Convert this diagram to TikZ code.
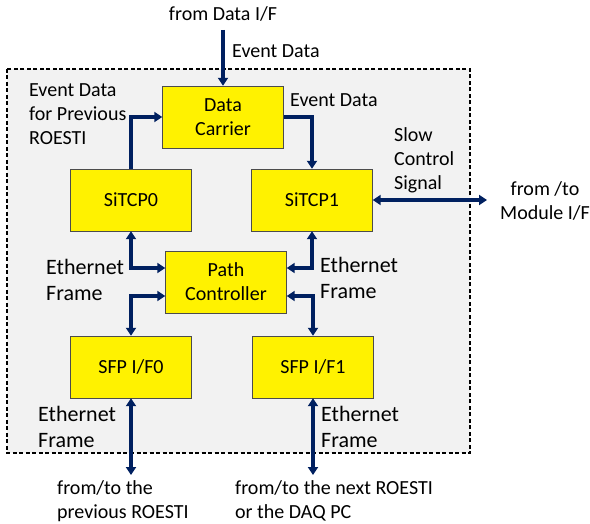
\documentclass[tikz,border=0pt]{standalone}
\usepackage{fontspec}
\setmainfont{Carlito}
\usepackage{tikz}
\usetikzlibrary{positioning, arrows.meta}
\definecolor{navy}{HTML}{002060}
\definecolor{boxgray}{HTML}{F2F2F2}

\begin{document}
\begin{tikzpicture}[
    x=1pt, y=-1pt, % pixel-like coordinates, y grows downwards
    every node/.style={font=\fontsize{20}{24}\selectfont},
    block/.style={draw=black!70, fill=yellow, minimum width=121pt,
        minimum height=62pt, align=center, inner sep=0pt},
    link/.style={draw=navy, line width=3.4pt, -{Triangle[length=8pt,width=10pt]}},
    both/.style={link, {Triangle[length=8pt,width=10pt]}-{Triangle[length=8pt,width=10pt]}},
    lbl/.style={align=left, anchor=base west, inner sep=0pt,
        font=\fontsize{20}{24}\selectfont},
    ethlbl/.style={lbl, font=\fontsize{22}{26}\selectfont}
]
    \useasboundingbox (0,0) rectangle (590,524);

    % Dashed frame of the board
    \draw[fill=boxgray, line width=1.3pt, dash pattern=on 4pt off 2.5pt]
        (7,69) rectangle (470,453);

    % Blocks
    \node[block] (carrier) at (223,117) {Data\\Carrier};
    \node[block] (sitcp0) at (131,200) {SiTCP0};
    \node[block] (sitcp1) at (312,200) {SiTCP1};
    \node[block] (path) at (226,282) {Path\\Controller};
    \node[block] (sfp0) at (131,367) {SFP I/F0};
    \node[block] (sfp1) at (313,367) {SFP I/F1};

    % Free ends of the outer connectors
    \coordinate (datain) at (223,30);
    \coordinate (modif) at (487,200);
    \coordinate (prevend) at (131,475);
    \coordinate (nextend) at (313,475);

    % Event data path
    \draw[link] (datain) -- (carrier.north);
    \draw[link] (sitcp0.north) |- (carrier.west);
    \draw[link] (carrier.east) -| (sitcp1.north);

    % Ethernet frames through the path controller
    \draw[both] (sitcp0.south) |- ([yshift=14pt]path.west);
    \draw[both] (sitcp1.south) |- ([yshift=14pt]path.east);
    \draw[both] ([yshift=-14pt]path.west) -| (sfp0.north);
    \draw[both] ([yshift=-14pt]path.east) -| (sfp1.north);

    % Outer links
    \draw[both] (sfp0.south) -- (prevend);
    \draw[both] (sfp1.south) -- (nextend);
    \draw[both] (sitcp1.east) -- (modif);

    % Labels (base = baseline of the last line)
    \node[lbl, anchor=base] (fromdata) at (223,21) {from Data I/F};
    \node[lbl] (evtin) at (232,58) {Event Data};
    \node[lbl] (evtprev) at (29,145) {Event Data\\for Previous\\ROESTI};
    \node[lbl] (evtout) at (290,107) {Event Data};
    \node[lbl] (slowctl) at (394,190) {Slow\\Control\\Signal};
    \node[lbl, anchor=base, align=center] (modlbl) at (545,220) {from /to\\Module I/F};
    \node[ethlbl] (ethl) at (46,301) {Ethernet\\Frame};
    \node[ethlbl] (ethr) at (320,299) {Ethernet\\Frame};
    \node[ethlbl] (ethbl) at (38,447) {Ethernet\\Frame};
    \node[ethlbl] (ethbr) at (321,447) {Ethernet\\Frame};
    \node[lbl] (prevlbl) at (57,518) {from/to the\\previous ROESTI};
    \node[lbl] (nextlbl) at (235,518) {from/to the next ROESTI\\or the DAQ PC};
\end{tikzpicture}
\end{document}
